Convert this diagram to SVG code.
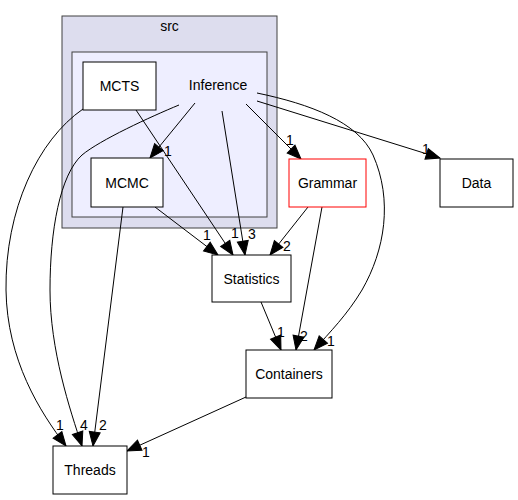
<svg xmlns="http://www.w3.org/2000/svg" width="518" height="500" viewBox="0 0 518 500">
  <style>
    text { font-family: "Liberation Sans", Arial, Helvetica, sans-serif; font-size: 14px; fill: #000; }
    .node rect { fill: #ffffff; stroke: #000000; stroke-width: 1; }
    .node.red rect { stroke: #ff0000; }
    .edge path { fill: none; stroke: #000000; stroke-width: 1; marker-end: url(#arrow); }
    .lbl { text-anchor: start; }
    .c { text-anchor: middle; }
  </style>
  <defs>
    <marker id="arrow" markerUnits="userSpaceOnUse" markerWidth="16" markerHeight="13" refX="14.5" refY="6" orient="auto" overflow="visible">
      <polygon points="0.5,0.5 14.5,6 0.5,11.5" fill="#000" stroke="#000" stroke-width="1"/>
    </marker>
  </defs>

  <!-- clusters -->
  <g id="cluster_src">
    <rect x="62" y="16" width="215" height="212" fill="#ddddee" stroke="#404040" stroke-width="1"/>
    <text class="c" x="169.5" y="31">src</text>
  </g>
  <g id="cluster_Inference">
    <rect x="72" y="52" width="195" height="165" fill="#eeeeff" stroke="#404040" stroke-width="1"/>
    <text class="c" x="218" y="90">Inference</text>
  </g>

  <!-- connectors -->
  <g id="edges" class="edge">
    <!-- Inference -> MCMC -->
    <path d="M195,103 L150,158"/>
    <text class="lbl" x="164" y="156">1</text>

    <!-- Inference -> Grammar -->
    <path d="M246,104 L301,159"/>
    <text class="lbl" x="286" y="145">1</text>

    <!-- Inference -> Statistics -->
    <path d="M222,111 L245,255"/>
    <text class="lbl" x="248" y="239">3</text>

    <!-- MCTS -> Statistics -->
    <path d="M136,110 L233,255"/>
    <text class="lbl" x="231" y="238">1</text>

    <!-- MCMC -> Statistics -->
    <path d="M155,207 L218,255"/>
    <text class="lbl" x="203" y="240">1</text>

    <!-- Grammar -> Statistics -->
    <path d="M308,207 L270,255"/>
    <text class="lbl" x="283" y="251">2</text>

    <!-- Inference -> Data -->
    <path d="M257,101 L440,158"/>
    <text class="lbl" x="422" y="154">1</text>

    <!-- Inference -> Containers -->
    <path d="M257,93 C310,104 358,122 373,155 C393,200 385,250 362,290 C347,315 330,332 314,350"/>
    <text class="lbl" x="327" y="346">1</text>

    <!-- Grammar -> Containers -->
    <path d="M322,207 L296,350"/>
    <text class="lbl" x="300" y="341">2</text>

    <!-- Statistics -> Containers -->
    <path d="M261,302 L281,350"/>
    <text class="lbl" x="277" y="337">1</text>

    <!-- Inference -> Threads -->
    <path d="M179,105 C150,117 100,140 82,155 C60,175 50,230 50,290 C50,350 70,410 82,446"/>
    <text class="lbl" x="80" y="430">4</text>

    <!-- MCTS -> Threads -->
    <path d="M83,109 C38,140 5,210 6,290 C7,360 40,412 66,446"/>
    <text class="lbl" x="56" y="430">1</text>

    <!-- MCMC -> Threads -->
    <path d="M123,207 L93,446"/>
    <text class="lbl" x="99" y="430">2</text>

    <!-- Containers -> Threads -->
    <path d="M246,397 L127,451"/>
    <text class="lbl" x="142" y="457">1</text>
  </g>

  <!-- nodes -->
  <g id="node_MCTS" class="node">
    <rect x="83" y="62" width="73" height="48"/>
    <text class="c" x="119.5" y="91">MCTS</text>
  </g>
  <g id="node_MCMC" class="node">
    <rect x="91" y="158" width="72" height="49"/>
    <text class="c" x="127" y="187.5">MCMC</text>
  </g>
  <g id="node_Grammar" class="node red">
    <rect x="289" y="159" width="77" height="48"/>
    <text class="c" x="327.5" y="188">Grammar</text>
  </g>
  <g id="node_Data" class="node">
    <rect x="440" y="159" width="73" height="48"/>
    <text class="c" x="476.5" y="188">Data</text>
  </g>
  <g id="node_Statistics" class="node">
    <rect x="212" y="255" width="79" height="47"/>
    <text class="c" x="251.5" y="283.5">Statistics</text>
  </g>
  <g id="node_Containers" class="node">
    <rect x="246" y="350" width="86" height="48"/>
    <text class="c" x="289" y="379">Containers</text>
  </g>
  <g id="node_Threads" class="node">
    <rect x="53" y="446" width="74" height="48"/>
    <text class="c" x="90" y="475">Threads</text>
  </g>
</svg>
